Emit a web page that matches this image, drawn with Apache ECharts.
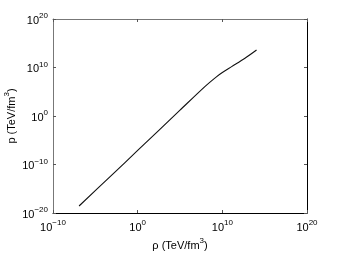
<!DOCTYPE html>
<html><head><meta charset="utf-8">
<script src="https://cdn.jsdelivr.net/npm/echarts@6/dist/echarts.min.js"></script>
<style>html,body{margin:0;padding:0;background:#fff}#c{width:339px;height:256px}</style>
</head><body><div id="c"></div>
<script>
// energy density rho (TeV/fm^3) and pressure p (TeV/fm^3)
var rho = [1.2e-7, 1e-3, 1, 1e5, 1e8, 2e9, 1e10, 1.26e11, 4.7e12, 1.1e14];
var pressure = [2.8e-19, 8.3e-13, 7.8e-8, 1.6e1, 1.45e6, 1.2e8, 9.3e8, 1.5e10, 8e11, 4e13];
var xTicks = [-10, 0, 10, 20];
var yTicks = [-20, -10, 0, 10, 20];

var FONT = '"Liberation Sans", Arial, sans-serif';
function expLabel(v) {
  var e = Math.round(Math.log10(v));
  var s = String(e).replace('-', '\u2212');
  return '{b|10}{s|' + s + '}';
}
var rich = {
  b: {fontSize: 11, fontFamily: FONT, color: '#000', verticalAlign: 'bottom'},
  s: {fontSize: 8, fontFamily: FONT, color: '#000', verticalAlign: 'bottom', padding: [0, 0, 6, 0]}
};
var nameRich = {
  s: {fontSize: 8, fontFamily: FONT, color: '#000', verticalAlign: 'bottom', padding: [0, 0, 6, 0]},
  b: {fontSize: 11, fontFamily: FONT, color: '#000', verticalAlign: 'bottom'}
};
var data = rho.map(function (r, i) { return [r, pressure[i]]; });

var chart = echarts.init(document.getElementById('c'), null, {renderer: 'canvas'});
function logAxis(extra) {
  return Object.assign({
    type: 'log', logBase: 10,
    axisLine: {show: true, onZero: false, lineStyle: {color: '#000', width: 1}},
    axisTick: {show: true, inside: true, length: 3, lineStyle: {color: '#555'}},
    splitLine: {show: false},
    minorTick: {show: false}
  }, extra);
}
chart.setOption({
  animation: false,
  backgroundColor: '#fff',
  grid: {left: 53, right: 32, top: 19, bottom: 43, containLabel: false, outerBoundsMode: 'none'},
  xAxis: [
    logAxis({
      min: Math.pow(10, xTicks[0]), max: Math.pow(10, xTicks[xTicks.length - 1]), interval: 10,
      position: 'bottom',
      name: '{b|\u03c1 (TeV/fm}{s|3}{b|)}', nameLocation: 'middle', nameGap: 24,
      nameMoveOverlap: false,
      nameTextStyle: {rich: nameRich},
      axisLabel: {formatter: expLabel, rich: rich, margin: 6}
    }),
    logAxis({
      min: Math.pow(10, xTicks[0]), max: Math.pow(10, xTicks[xTicks.length - 1]), interval: 10,
      position: 'top',
      axisLine: {show: true, onZero: false, lineStyle: {color: '#777', width: 1}},
      axisLabel: {show: false}
    })
  ],
  yAxis: [
    logAxis({
      min: Math.pow(10, yTicks[0]), max: Math.pow(10, yTicks[yTicks.length - 1]), interval: 10,
      position: 'left',
      axisLine: {show: true, onZero: false, lineStyle: {color: '#777', width: 1}},
      name: '{b|p (TeV/fm}{s|3}{b|)}', nameLocation: 'middle', nameGap: 36,
      nameMoveOverlap: false,
      nameTextStyle: {rich: nameRich},
      axisLabel: {formatter: expLabel, rich: rich, margin: 5}
    }),
    logAxis({
      min: Math.pow(10, yTicks[0]), max: Math.pow(10, yTicks[yTicks.length - 1]), interval: 10,
      position: 'right',
      axisLabel: {show: false}
    })
  ],
  series: [{
    type: 'line', data: data, xAxisIndex: 0, yAxisIndex: 0,
    showSymbol: false, symbol: 'none', smooth: 0.3,
    lineStyle: {color: '#111', width: 1.1}
  }]
});
</script></body></html>
